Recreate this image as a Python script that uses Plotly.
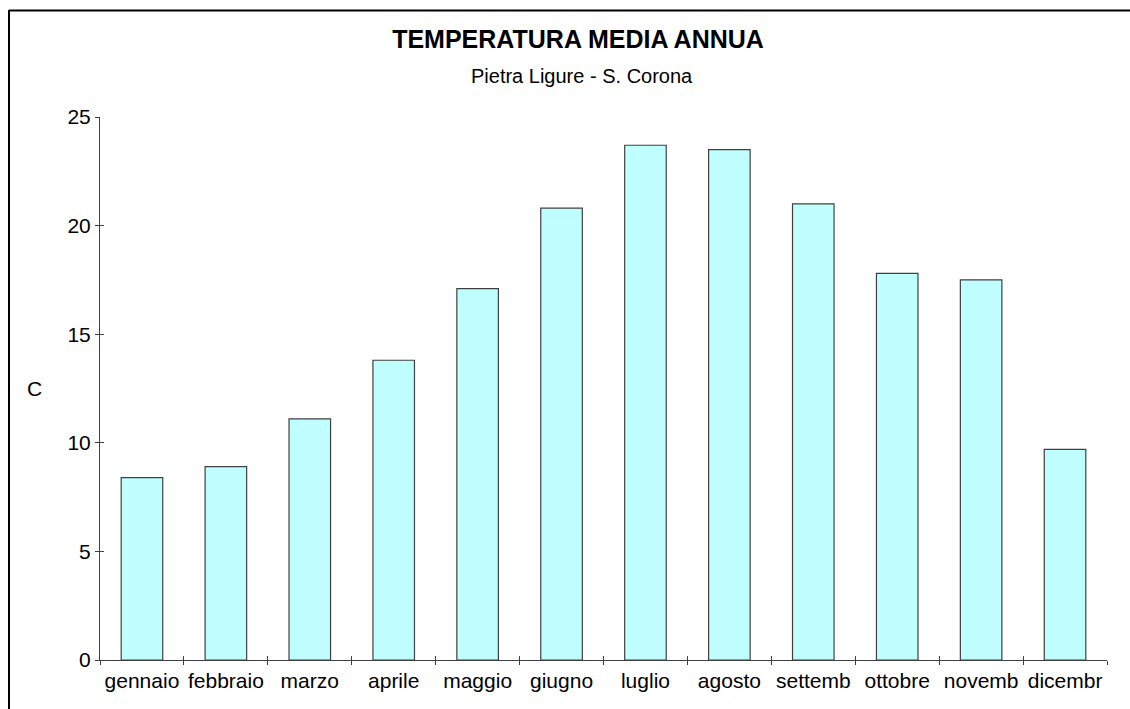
import plotly.graph_objects as go

# Monthly mean temperatures (°C), Pietra Ligure - S. Corona
mesi = ["gennaio", "febbraio", "marzo", "aprile", "maggio", "giugno",
        "luglio", "agosto", "settemb", "ottobre", "novemb", "dicembr"]
temperature = [8.4, 8.9, 11.1, 13.8, 17.1, 20.8, 23.7, 23.5, 21.0, 17.8, 17.5, 9.7]
y_ticks = [0, 5, 10, 15, 20, 25]

W, H = 1130, 709
ML, MR, MT, MB = 100, 23, 117, 49
FONT = "Arial, Liberation Sans, sans-serif"
AXIS_COLOR = "#404040"

fig = go.Figure()
fig.add_trace(go.Bar(
    x=mesi, y=temperature,
    marker=dict(color="#C0FFFF", line=dict(color="#404040", width=1.2)),
    width=0.495, showlegend=False, hoverinfo="x+y",
))

axis_common = dict(showgrid=False, zeroline=False, showline=True,
                   linecolor=AXIS_COLOR, linewidth=1, tickcolor=AXIS_COLOR,
                   tickwidth=1, ticklen=4, automargin=False)

fig.update_layout(
    width=W, height=H,
    margin=dict(l=ML, r=MR, t=MT, b=MB, pad=0),
    paper_bgcolor="white", plot_bgcolor="white",
    font=dict(family=FONT, color="black", size=21),
    title=dict(text="<b>TEMPERATURA MEDIA ANNUA</b>",
               font=dict(family=FONT, size=25, color="black"),
               x=578 / W, xref="container", xanchor="center",
               y=1 - 39 / H, yref="container", yanchor="middle"),
    xaxis=dict(**axis_common, type="category", ticks="outside",
               tickson="boundaries", range=[-0.5, 11.5], ticklabelstandoff=2,
               tickangle=0,
               tickfont=dict(size=21, family=FONT, color="black")),
    yaxis=dict(**axis_common, ticks="outside", range=[0, 25],
               tickvals=y_ticks, ticktext=[str(v) for v in y_ticks],
               tickfont=dict(size=21, family=FONT, color="black")),
    # overlay axes supply the inner half of the crossing tick marks
    xaxis2=dict(**axis_common, type="category", overlaying="x", matches="x",
                ticks="inside", tickson="boundaries", showticklabels=False,
                side="bottom", categoryarray=mesi, categoryorder="array"),
    yaxis2=dict(**axis_common, overlaying="y", matches="y", ticks="inside",
                tickvals=y_ticks, showticklabels=False, side="left"),
    bargap=0.5,
)

# invisible trace so the overlay axes are rendered
fig.add_trace(go.Scatter(x=mesi, y=temperature, xaxis="x2", yaxis="y2",
                         mode="markers", marker=dict(opacity=0),
                         showlegend=False, hoverinfo="skip"))

plot_w = W - ML - MR
plot_h = H - MT - MB


def px_x(px):
    return (px - ML) / plot_w


def px_y(py):
    return (H - MB - py) / plot_h


fig.add_annotation(text="Pietra Ligure - S. Corona", xref="paper", yref="paper",
                   x=px_x(582), y=px_y(76), xanchor="center", yanchor="middle",
                   showarrow=False, font=dict(family=FONT, size=20, color="black"))
fig.add_annotation(text="C", xref="paper", yref="paper",
                   x=px_x(34), y=0.5, xanchor="center", yanchor="middle",
                   showarrow=False, font=dict(family=FONT, size=21, color="black"))

# frame lines along the top and left edges
fig.add_shape(type="line", xref="paper", yref="paper",
              x0=px_x(9), x1=px_x(W + 2), y0=px_y(10.5), y1=px_y(10.5),
              line=dict(color="black", width=2))
fig.add_shape(type="line", xref="paper", yref="paper",
              x0=px_x(9), x1=px_x(9), y0=px_y(10), y1=px_y(H + 2),
              line=dict(color="black", width=2))

fig.write_html("out.html")
